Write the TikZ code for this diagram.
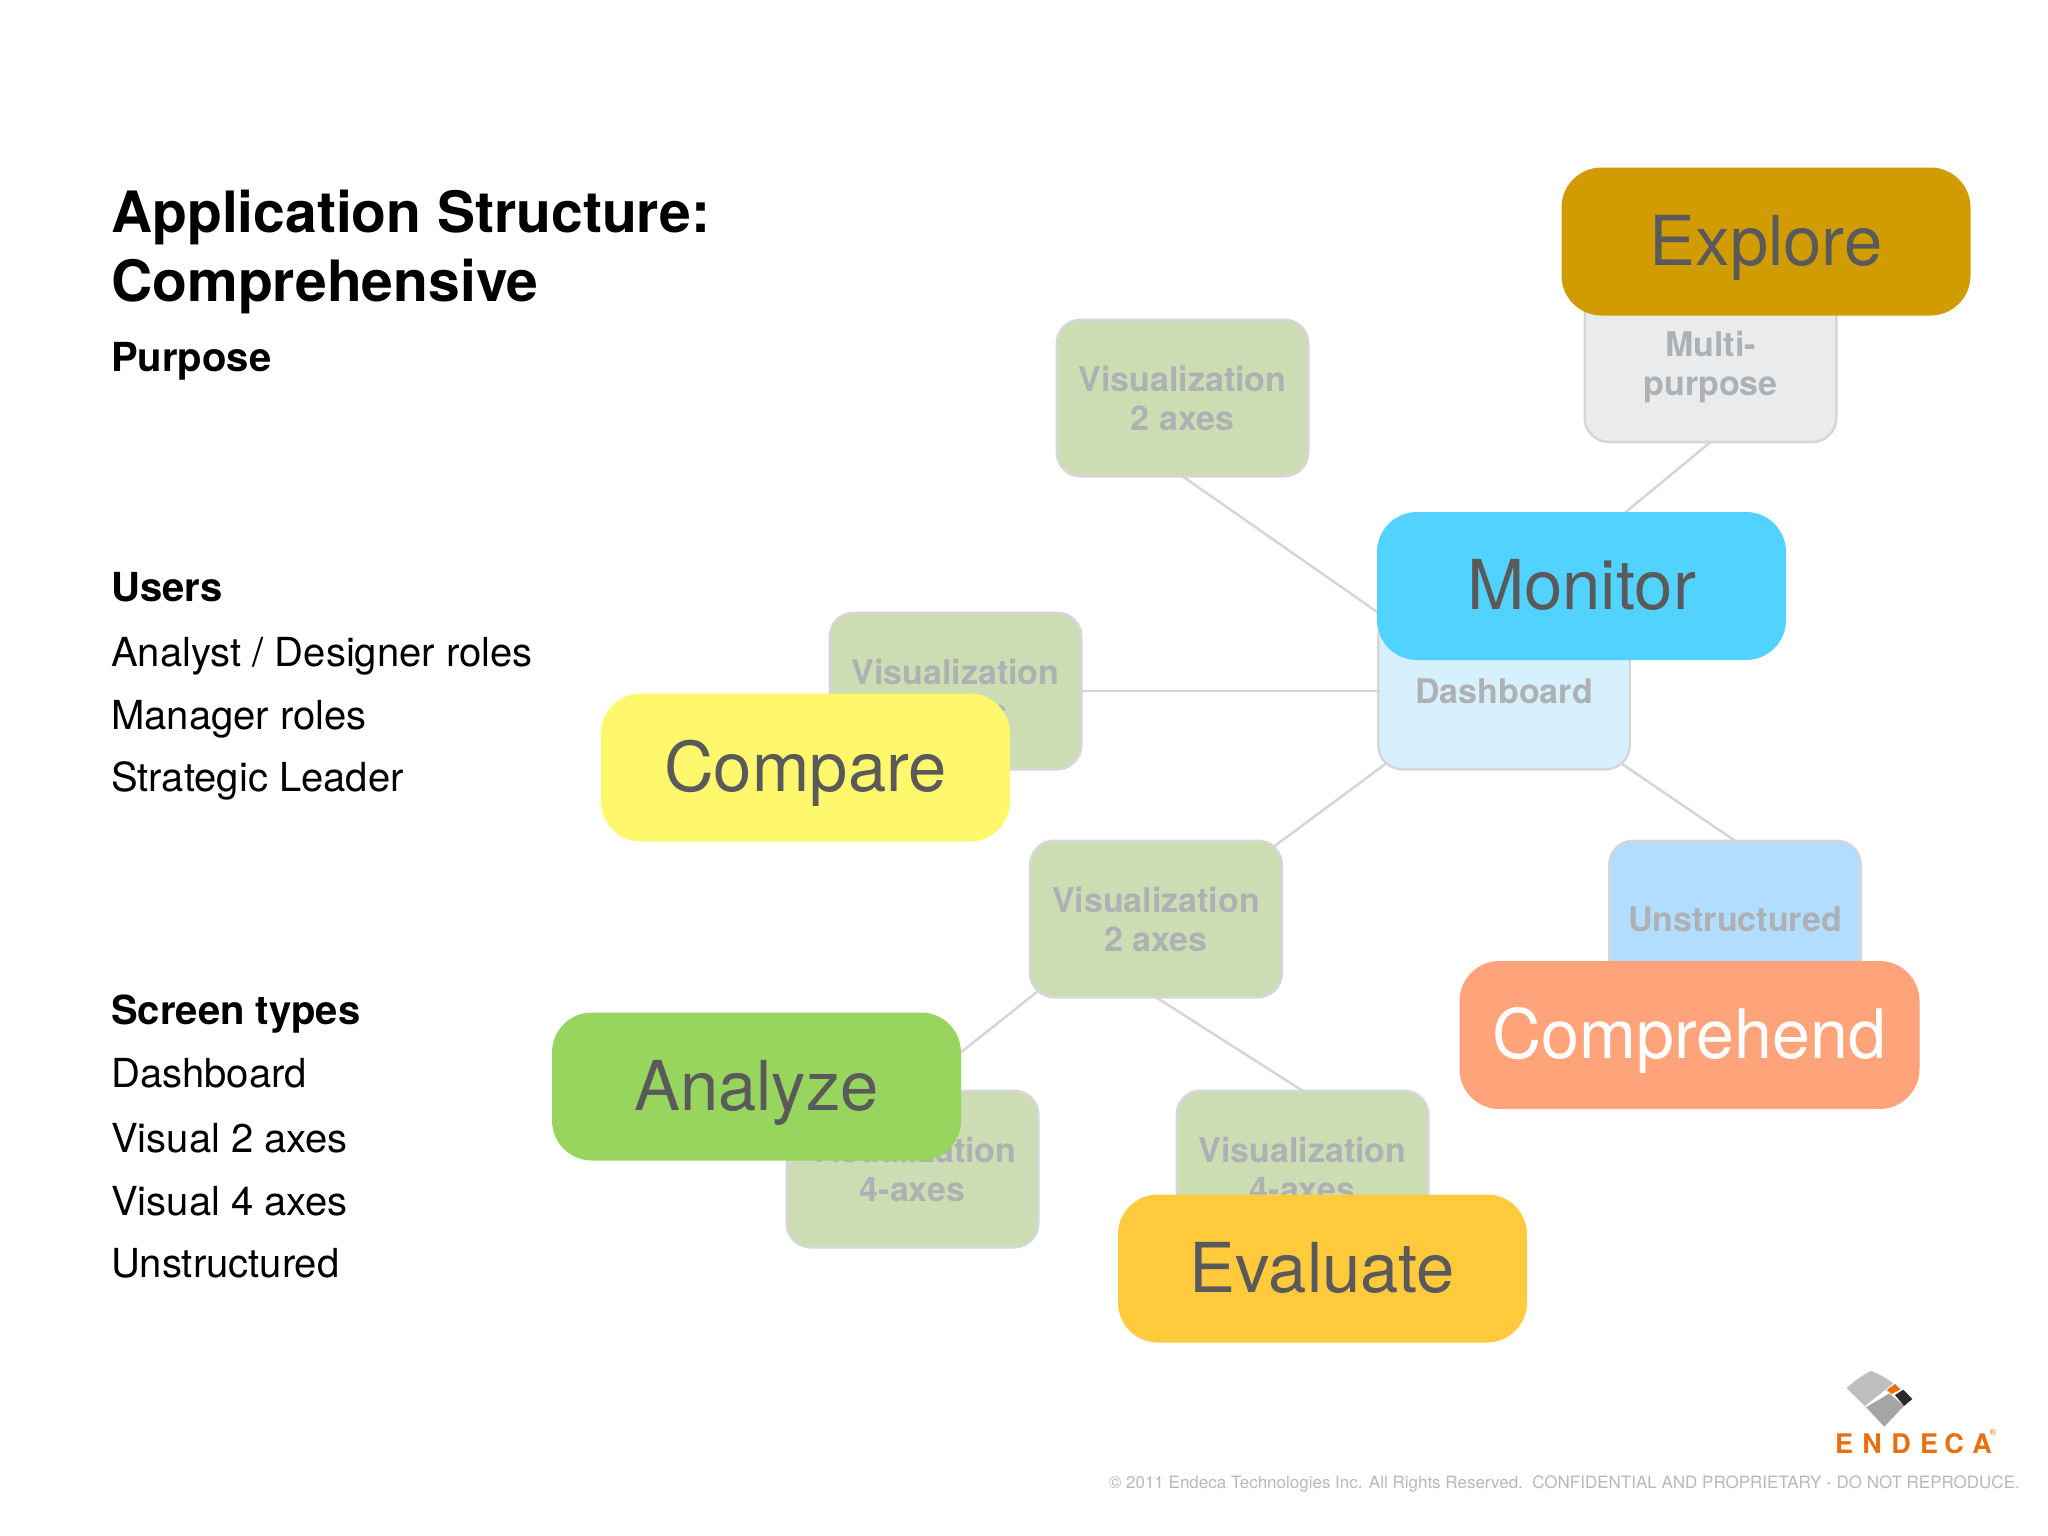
\documentclass[tikz,border=0pt]{standalone}
\usepackage{fontspec}
\usepackage{xcolor}
\usetikzlibrary{backgrounds}
\setmainfont{TeX Gyre Heros}
\definecolor{linegray}{HTML}{D6D6D8}
\definecolor{smalltext}{HTML}{AEB1B3}
\definecolor{bigtext}{HTML}{5A5A5A}
\definecolor{vizfill}{HTML}{CCDDB4}
\definecolor{dashfill}{HTML}{D6F0FD}
\definecolor{multifill}{HTML}{EAEBED}
\definecolor{unstrfill}{HTML}{B3DDFF}
\definecolor{endecaorange}{HTML}{E8700F}
\tikzset{
  smallbox/.style={draw=linegray, line width=2.5pt, rounded corners=24pt, inner sep=0pt, outer sep=0pt,
    minimum width=251.5pt, minimum height=156.5pt, align=center, text=smalltext,
    font=\fontsize{34}{39}\selectfont\bfseries},
  bigbox/.style={rounded corners=40pt, inner sep=0pt, outer sep=0pt, minimum width=409pt, minimum height=148pt,
    text=bigtext, text height=47pt, text depth=0pt, font=\fontsize{68.8}{68.8}\selectfont},
  link/.style={draw=linegray, line width=2.5pt},
  headline/.style={anchor=base west, inner sep=0pt, font=\fontsize{40}{40}\selectfont\bfseries},
  listline/.style={anchor=base west, inner sep=0pt, font=\fontsize{40}{40}\selectfont}
}
\begin{document}
\begin{tikzpicture}[x=1pt,y=-1pt]
\useasboundingbox (0,0) rectangle (2048,1536);
%draw left column
\node[headline, font=\fontsize{57}{57}\selectfont\bfseries] (title1) at (111,232) {Application Structure:};
\node[headline, font=\fontsize{57}{57}\selectfont\bfseries] (title2) at (111,301) {Comprehensive};
\node[headline] (purpose) at (111,371) {Purpose};
\node[headline] (users) at (111,601) {Users};
\node[headline] (types) at (111,1024) {Screen types};
\foreach \y/\txt in {666/{Analyst / Designer roles}, 729/Manager roles, 791/Strategic Leader,
    1087/Dashboard, 1152/Visual 2 axes, 1215/Visual 4 axes, 1277/Unstructured}{
   \node[listline] (item\y) at (111,\y) {\txt};
}
%draw small boxes
\node[smallbox, fill=multifill, minimum height=150pt] (multi) at (1710.5,367) {Multi-\\purpose};
\node[smallbox, fill=vizfill] (viztop) at (1182.5,398) {Visualization\\2 axes};
\node[smallbox, fill=vizfill] (vizleft) at (955.5,691) {Visualization\\2 axes};
\node[smallbox, fill=dashfill] (dash) at (1504,691) {Dashboard};
\node[smallbox, fill=vizfill] (vizmid) at (1156,919) {Visualization\\2 axes};
\node[smallbox, fill=unstrfill] (unstr) at (1735,919) {Unstructured};
\node[smallbox, fill=vizfill] (vizlow) at (912.5,1169) {Visualization\\4-axes};
\node[smallbox, fill=vizfill] (vizright) at (1302.5,1169) {Visualization\\4-axes};
%draw connectors
\begin{pgfonlayer}{background}
\fill[white] (0,0) rectangle (2048,1536);
\draw[link] (multi.south) -- (dash.north);
\draw[link, shorten >=-12pt] (viztop.south) -- (dash.north west);
\draw[link] (vizleft.east) -- (dash.west);
\draw[link, shorten <=-12pt, shorten >=-12pt] (dash.south west) -- (vizmid.north east);
\draw[link, shorten <=-12pt] (dash.south east) -- (unstr.north);
\draw[link, shorten <=-12pt] (vizmid.south west) -- (vizlow.north);
\draw[link] (vizmid.south) -- (vizright.north);
\end{pgfonlayer}
%draw big boxes
\node[bigbox, fill={rgb,255:red,208;green,156;blue,2}] (explore) at (1766,241.5) {Explore};
\node[bigbox, fill={rgb,255:red,82;green,211;blue,255}] (monitor) at (1581.5,586) {Monitor};
\node[bigbox, fill={rgb,255:red,255;green,248;blue,108}] (compare) at (805.5,767.5) {Compare};
\node[bigbox, fill={rgb,255:red,151;green,213;blue,95}] (analyze) at (756.5,1086.5) {Analyze};
\node[bigbox, fill={rgb,255:red,255;green,202;blue,60}] (evaluate) at (1322.5,1268.5) {Evaluate};
\node[bigbox, fill={rgb,255:red,255;green,164;blue,122}, text=white, minimum width=460pt,
  font=\fontsize{68.2}{68.2}\selectfont] (comprehend) at (1689.5,1035) {Comprehend};
%draw logo
\begin{scope}[xshift=1780pt,yshift=-1350pt,x=0.3333pt,y=-0.3333pt]
\fill[color={rgb,255:red,189;green,191;blue,192}] (200,115) .. controls (225,90) and (250,75) .. (272,63)
   .. controls (295,70) and (320,85) .. (340,100) -- (255,168) .. controls (235,150) and (218,132) .. (200,115) -- cycle;
\fill[color={rgb,255:red,165;green,165;blue,165}] (258,172) -- (328,130) -- (372,168) -- (313,230)
   .. controls (295,212) and (278,192) .. (258,172) -- cycle;
\fill[endecaorange] (320,120) -- (345,102) -- (362,118) -- (335,132) -- cycle;
\fill[color={rgb,255:red,43;green,43;blue,43}] (345,135) -- (370,119) -- (397,147) -- (372,168) -- cycle;
\end{scope}
\foreach \x/\ch [count=\i] in {1844/E, 1872/N, 1901/D, 1929/E, 1954/C, 1982/A}{
   \node[anchor=base, inner sep=0pt, text=endecaorange, font=\fontsize{27}{27}\selectfont\bfseries] (logo\i) at (\x,1453) {\ch};
}
\node[anchor=center, inner sep=0pt, text=endecaorange, font=\fontsize{9}{9}\selectfont] (logoreg) at (1993,1432) {®};
%draw footer
\node[anchor=base east, inner sep=0pt, text=smalltext!90!white, font=\fontsize{17}{18}\selectfont] (footer) at (2020,1488)
  {© 2011 Endeca Technologies Inc. All Rights Reserved.\ \ CONFIDENTIAL AND PROPRIETARY - DO NOT REPRODUCE.};
\end{tikzpicture}
\end{document}
